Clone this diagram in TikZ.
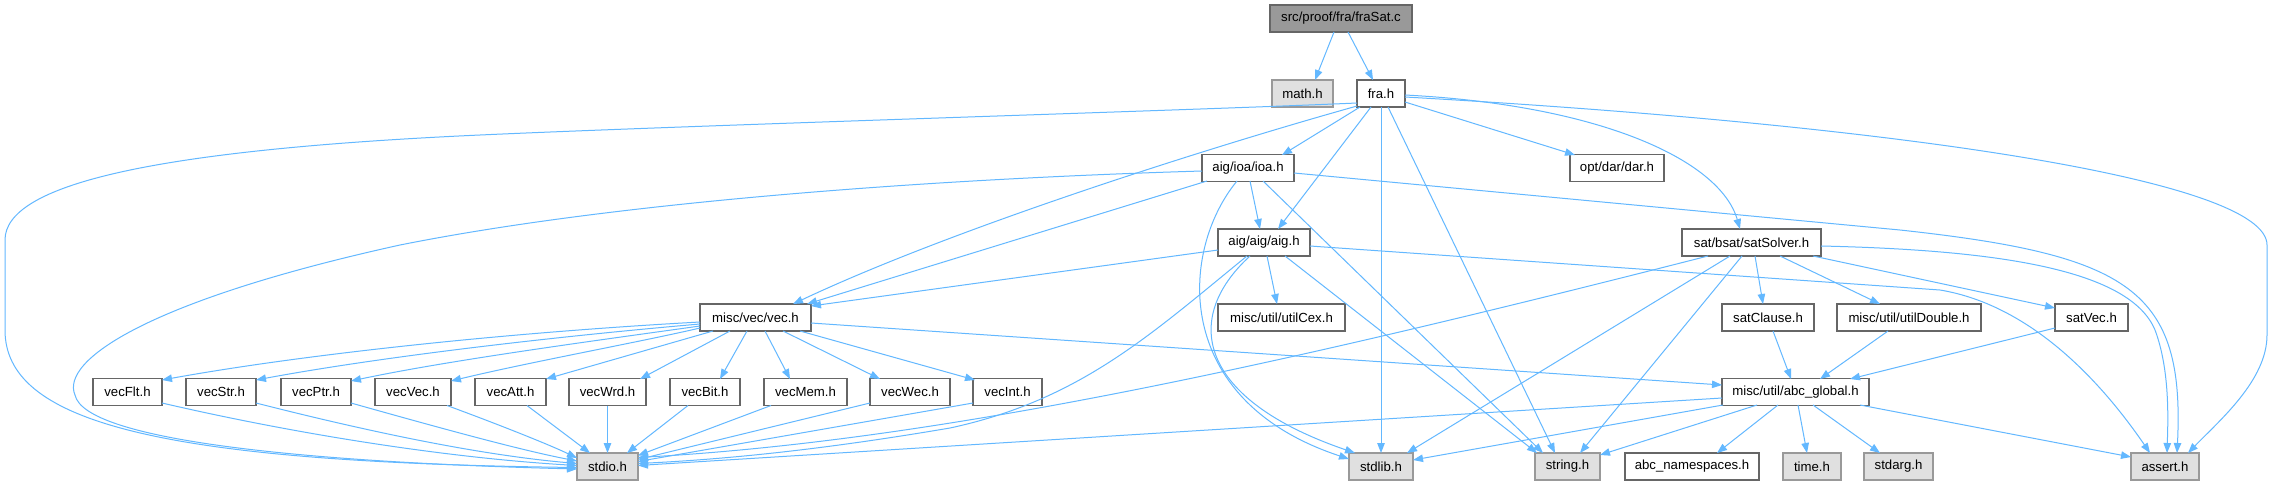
\documentclass[tikz,border=0pt]{standalone}
\usepackage{fontspec}
\setmainfont{Liberation Sans}
\usetikzlibrary{arrows.meta,calc}
\definecolor{edgec}{HTML}{63B8FF}
\definecolor{boxline}{HTML}{666666}
\definecolor{sysline}{HTML}{999999}
\definecolor{sysfill}{HTML}{E0E0E0}
\definecolor{rootfill}{HTML}{999999}
\definecolor{rootline}{HTML}{666666}
\begin{document}
\begin{tikzpicture}[x=1pt,y=-1pt,
  box/.style={draw=boxline,fill=white,line width=1.1pt,minimum height=27pt,inner sep=0pt,font=\fontsize{13.2}{15}\selectfont},
  sys/.style={box,draw=sysline,fill=sysfill},
  root/.style={box,draw=rootline,fill=rootfill},
  dep/.style={draw=edgec,line width=1pt,-{Triangle[length=10pt,width=7.5pt]}}]
\useasboundingbox (0,0) rectangle (2272,485);
\fill[white] (0,0) rectangle (2272,485);
% nodes
\node[root,minimum width=142pt] (fraSat) at (1341,18.5) {src/proof/fra/fraSat.c};
\node[sys,minimum width=61pt] (math) at (1302.5,93.5) {math.h};
\node[box,minimum width=48pt] (fra) at (1381,93.5) {fra.h};
\node[box,minimum width=92pt] (ioa) at (1248,168) {aig/ioa/ioa.h};
\node[box,minimum width=94pt] (dar) at (1617,168) {opt/dar/dar.h};
\node[box,minimum width=92pt] (aig) at (1264,242.5) {aig/aig/aig.h};
\node[box,minimum width=139pt] (sat) at (1751.5,242.5) {sat/bsat/satSolver.h};
\node[box,minimum width=111pt] (vec) at (755.5,317.5) {misc/vec/vec.h};
\node[box,minimum width=127pt] (cex) at (1281.5,317.5) {misc/util/utilCex.h};
\node[box,minimum width=92pt] (clause) at (1768,317.5) {satClause.h};
\node[box,minimum width=144pt] (dbl) at (1909,317.5) {misc/util/utilDouble.h};
\node[box,minimum width=73pt] (svec) at (2091.5,317.5) {satVec.h};
\node[box,minimum width=69pt] (vecFlt) at (127.5,392) {vecFlt.h};
\node[box,minimum width=70pt] (vecStr) at (221,392) {vecStr.h};
\node[box,minimum width=70pt] (vecPtr) at (316,392) {vecPtr.h};
\node[box,minimum width=76pt] (vecVec) at (413,392) {vecVec.h};
\node[box,minimum width=71pt] (vecAtt) at (510.5,392) {vecAtt.h};
\node[box,minimum width=77pt] (vecWrd) at (607.5,392) {vecWrd.h};
\node[box,minimum width=70pt] (vecBit) at (705,392) {vecBit.h};
\node[box,minimum width=83pt] (vecMem) at (805.5,392) {vecMem.h};
\node[box,minimum width=80pt] (vecWec) at (910,392) {vecWec.h};
\node[box,minimum width=69pt] (vecInt) at (1007.5,392) {vecInt.h};
\node[box,minimum width=147pt] (glob) at (1795.5,392) {misc/util/abc\_global.h};
\node[sys,minimum width=61pt] (stdio) at (607.5,466.5) {stdio.h};
\node[sys,minimum width=64pt] (stdlib) at (1381,466.5) {stdlib.h};
\node[sys,minimum width=65pt] (string) at (1567.5,466.5) {string.h};
\node[box,minimum width=134pt] (ns) at (1692,466.5) {abc\_namespaces.h};
\node[sys,minimum width=58pt] (time) at (1812,466.5) {time.h};
\node[sys,minimum width=69pt] (stdarg) at (1898.5,466.5) {stdarg.h};
\node[sys,minimum width=68pt] (assert) at (2165,466.5) {assert.h};
% edges from fraSat.c
\draw[dep] ($(fraSat)+(-7,13.5)$) -- ($(math)+(12.5,-13.5)$);
\draw[dep] ($(fraSat)+(7,13.5)$) -- ($(fra)+(-8,-13.5)$);
% edges from fra.h
\draw[dep] ($(fra)+(-24,9.5)$) .. controls (1200,110) and (700,125) .. (480,135)
   .. controls (150,150) and (5,185) .. (5,240) -- (5,330)
   .. controls (5,420) and (150,462) .. ($(stdio)+(-30.5,1)$);
\draw[dep] ($(fra)+(-24,12.5)$) .. controls (1200,150) and (950,230) .. ($(vec)+(37.5,-13.5)$);
\draw[dep] ($(fra)+(-21,13.5)$) -- ($(ioa)+(34,-13)$);
\draw[dep] ($(fra)+(-10,13.5)$) -- ($(aig)+(14,-13.5)$);
\draw[dep] ($(fra)+(0,13.5)$) -- ($(stdlib)+(0,-13.5)$);
\draw[dep] ($(fra)+(7,13.5)$) -- ($(string)+(-12.5,-13.5)$);
\draw[dep] ($(fra)+(24,8.5)$) -- ($(dar)+(-42,-13)$);
\draw[dep] ($(fra)+(24,1.5)$) .. controls (1600,105) and (1720,160) .. ($(sat)+(-11.5,-13.5)$);
\draw[dep] ($(fra)+(24,3.5)$) .. controls (1900,125) and (2267,180) .. (2267,245) -- (2267,335)
   .. controls (2267,380) and (2220,420) .. ($(assert)+(23,-13.5)$);
% edges from ioa.h
\draw[dep] ($(ioa)+(-46,3)$) .. controls (900,180) and (600,205) .. (400,245)
   .. controls (150,300) and (60,360) .. (75,395)
   .. controls (85,440) and (300,462) .. ($(stdio)+(-30.5,2.5)$);
\draw[dep] ($(ioa)+(-41,13)$) -- ($(vec)+(51.5,-13.5)$);
\draw[dep] ($(ioa)+(2,13)$) -- ($(aig)+(-4,-13.5)$);
\draw[dep] ($(ioa)+(-11,13)$) .. controls (1180,250) and (1170,400) .. ($(stdlib)+(-32,-7.5)$);
\draw[dep] ($(ioa)+(15,13)$) -- ($(string)+(-24.5,-13.5)$);
\draw[dep] ($(ioa)+(46,5)$) -- (1900,230) .. controls (2130,255) and (2185,290) .. ($(assert)+(12,-13.5)$);
% edges from aig.h
\draw[dep] ($(aig)+(-46,7.5)$) -- ($(vec)+(55.5,-11.5)$);
\draw[dep] ($(aig)+(3,13.5)$) -- ($(cex)+(-4.5,-13.5)$);
\draw[dep] ($(aig)+(-17,13.5)$) .. controls (1150,335) and (1080,400) .. (950,428)
   .. controls (850,445) and (750,458) .. ($(stdio)+(30.5,-3)$);
\draw[dep] ($(aig)+(-14,13.5)$) .. controls (1180,320) and (1200,400) .. ($(stdlib)+(-26,-13.5)$);
\draw[dep] ($(aig)+(21,13.5)$) -- ($(string)+(-30.5,-13.5)$);
\draw[dep] ($(aig)+(46,3.5)$) -- (1940,290) .. controls (2030,305) and (2100,380) .. ($(assert)+(-15,-13.5)$);
% edges from satSolver.h
\draw[dep] ($(sat)+(-43.5,13.5)$) .. controls (1300,360) and (950,440) .. ($(stdio)+(30.5,-9)$);
\draw[dep] ($(sat)+(-21.5,13.5)$) -- ($(stdlib)+(26,-13.5)$);
\draw[dep] ($(sat)+(-9.5,13.5)$) -- ($(string)+(12.5,-13.5)$);
\draw[dep] ($(sat)+(3.5,13.5)$) -- ($(clause)+(-5,-13.5)$);
\draw[dep] ($(sat)+(28.5,13.5)$) -- ($(dbl)+(-29,-13.5)$);
\draw[dep] ($(sat)+(61.5,13.5)$) -- ($(svec)+(-36.5,-9.5)$);
\draw[dep] ($(sat)+(69.5,3.5)$) .. controls (2000,250) and (2130,270) .. (2155,330)
   .. controls (2170,370) and (2168,420) .. ($(assert)+(2,-13.5)$);
% edges from vec.h
\draw[dep] ($(vec)+(-55.5,4.5)$) .. controls (500,333) and (300,355) .. ($(vecFlt)+(34.5,-12)$);
\draw[dep] ($(vec)+(-55.5,6.5)$) .. controls (550,337) and (380,357) .. ($(vecStr)+(35,-12)$);
\draw[dep] ($(vec)+(-55.5,8.5)$) .. controls (600,340) and (450,360) .. ($(vecPtr)+(35,-11)$);
\draw[dep] ($(vec)+(-55.5,10.5)$) .. controls (640,342) and (530,362) .. ($(vecVec)+(38,-11)$);
\draw[dep] ($(vec)+(-42.5,13.5)$) -- ($(vecAtt)+(35.5,-13)$);
\draw[dep] ($(vec)+(-25.5,13.5)$) -- ($(vecWrd)+(32.5,-13)$);
\draw[dep] ($(vec)+(-8.5,13.5)$) -- ($(vecBit)+(15,-13)$);
\draw[dep] ($(vec)+(9.5,13.5)$) -- ($(vecMem)+(-15.5,-13)$);
\draw[dep] ($(vec)+(27.5,13.5)$) -- ($(vecWec)+(-30,-13)$);
\draw[dep] ($(vec)+(44.5,13.5)$) -- ($(vecInt)+(-32.5,-12)$);
\draw[dep] ($(vec)+(55.5,5.5)$) -- ($(glob)+(-73.5,-7)$);
% vecX.h -> stdio.h
\draw[dep] ($(vecFlt)+(34.5,11)$) .. controls (300,435) and (450,458) .. ($(stdio)+(-30.5,-1)$);
\draw[dep] ($(vecStr)+(35,11)$) .. controls (370,432) and (480,455) .. ($(stdio)+(-30.5,-3)$);
\draw[dep] ($(vecPtr)+(35,11)$) .. controls (440,428) and (520,450) .. ($(stdio)+(-30.5,-5.5)$);
\draw[dep] ($(vecVec)+(34,13.5)$) .. controls (500,425) and (550,445) .. ($(stdio)+(-30.5,-8.5)$);
\draw[dep] ($(vecAtt)+(16.5,13.5)$) -- ($(stdio)+(-17.5,-13.5)$);
\draw[dep] ($(vecWrd)+(0,13.5)$) -- ($(stdio)+(0,-13.5)$);
\draw[dep] ($(vecBit)+(-17,13.5)$) -- ($(stdio)+(19.5,-13.5)$);
\draw[dep] ($(vecMem)+(-34.5,13.5)$) -- ($(stdio)+(30.5,-11)$);
\draw[dep] ($(vecWec)+(-40,11)$) -- ($(stdio)+(30.5,-7)$);
\draw[dep] ($(vecInt)+(-34.5,11)$) -- ($(stdio)+(30.5,-5)$);
% into abc_global.h
\draw[dep] ($(clause)+(5,13.5)$) -- ($(glob)+(-4.5,-13)$);
\draw[dep] ($(dbl)+(-21,13.5)$) -- ($(glob)+(24.5,-13)$);
\draw[dep] ($(svec)+(-36.5,10.5)$) -- ($(glob)+(54.5,-13)$);
% from abc_global.h
\draw[dep] ($(glob)+(-73.5,6)$) -- ($(stdio)+(30.5,-1)$);
\draw[dep] ($(glob)+(-72.5,13)$) -- ($(stdlib)+(32,-6.5)$);
\draw[dep] ($(glob)+(-38.5,13)$) -- ($(string)+(32.5,-11.5)$);
\draw[dep] ($(glob)+(-17.5,13)$) -- ($(ns)+(25,-13.5)$);
\draw[dep] ($(glob)+(2.5,13)$) -- ($(time)+(-5,-13.5)$);
\draw[dep] ($(glob)+(17.5,13)$) -- ($(stdarg)+(-18.5,-13.5)$);
\draw[dep] ($(glob)+(64.5,13)$) -- ($(assert)+(-34,-9.5)$);
\end{tikzpicture}
\end{document}
